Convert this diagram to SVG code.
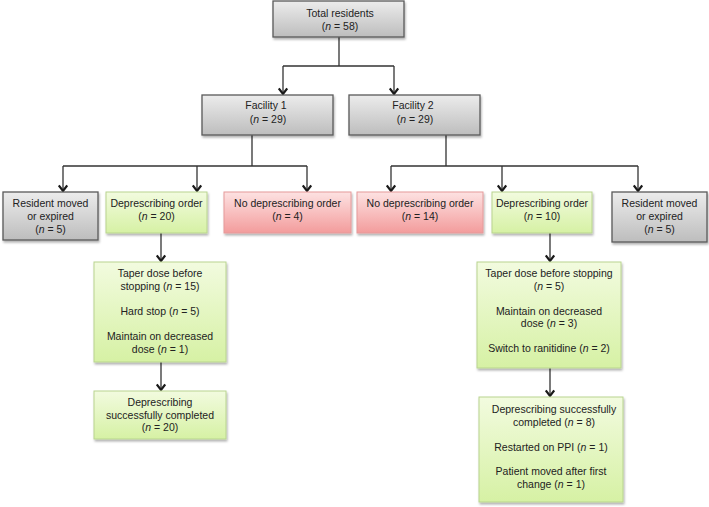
<svg xmlns="http://www.w3.org/2000/svg" width="709" height="507" viewBox="0 0 709 507">
<defs>
<linearGradient id="gGray" x1="0" y1="0" x2="0" y2="1"><stop offset="0" stop-color="#ececec"/><stop offset="1" stop-color="#bdbdbd"/></linearGradient>
<linearGradient id="gGreen" x1="0" y1="0" x2="0" y2="1"><stop offset="0" stop-color="#f2fbdf"/><stop offset="1" stop-color="#d6f1a4"/></linearGradient>
<linearGradient id="gRed" x1="0" y1="0" x2="0" y2="1"><stop offset="0" stop-color="#fde2e2"/><stop offset="1" stop-color="#f39c9c"/></linearGradient>
<filter id="sh" x="-10%" y="-10%" width="130%" height="140%"><feDropShadow dx="1" dy="2" stdDeviation="1.3" flood-color="#000" flood-opacity="0.3"/></filter>
<marker id="arr" viewBox="0 0 10 10" refX="8.5" refY="5" markerWidth="10" markerHeight="10" markerUnits="userSpaceOnUse" orient="auto">
<path d="M3,0.8 L8.5,5 L3,9.2" fill="none" stroke="#1a1a1a" stroke-width="2.2"/>
</marker>
</defs>
<style>
.gray{fill:url(#gGray);stroke:#5a5a5a;stroke-width:1.3;filter:url(#sh)}
.green{fill:url(#gGreen);stroke:#b9d48f;stroke-width:1;filter:url(#sh)}
.red{fill:url(#gRed);stroke:#e59a9a;stroke-width:1;filter:url(#sh)}
text{font-family:"Liberation Sans",Arial,sans-serif;font-size:10.5px;fill:#222;text-anchor:middle}
.i{font-style:italic}
.ln{fill:none;stroke:#333;stroke-width:1.3}
.ar{fill:none;stroke:#333;stroke-width:1.3;marker-end:url(#arr)}
</style>
<rect width="709" height="507" fill="#fff"/>
<g id="connectors">
<path class="ln" d="M339,37 V66 M283,66 H394"/>
<path class="ar" d="M283,66 V94"/>
<path class="ar" d="M394,66 V94"/>
<path class="ln" d="M252,135 V166 M63,166 H307"/>
<path class="ar" d="M63,166 V191"/>
<path class="ar" d="M197,166 V191"/>
<path class="ar" d="M307,166 V191"/>
<path class="ln" d="M446,135 V166 M391,166 H638"/>
<path class="ar" d="M391,166 V191"/>
<path class="ar" d="M502,166 V191"/>
<path class="ar" d="M638,166 V191"/>
<path class="ar" d="M161,233 V261"/>
<path class="ar" d="M161,362 V390"/>
<path class="ar" d="M550,233 V261"/>
<path class="ar" d="M550,368 V396"/>
</g>
<g id="total">
<rect class="gray" x="273" y="1" width="131" height="36"/>
<text x="340" y="17">Total residents</text>
<text x="340" y="30">(<tspan class="i">n</tspan> = 58)</text>
</g>
<g id="facility1">
<rect class="gray" x="202" y="95" width="131" height="40"/>
<text x="266" y="109">Facility 1</text>
<text x="268" y="123">(<tspan class="i">n</tspan> = 29)</text>
</g>
<g id="facility2">
<rect class="gray" x="349" y="95" width="131" height="40"/>
<text x="413" y="109">Facility 2</text>
<text x="415" y="123">(<tspan class="i">n</tspan> = 29)</text>
</g>
<g id="moved1">
<rect class="gray" x="3" y="192" width="95" height="48"/>
<text x="50.5" y="207">Resident moved</text>
<text x="50.5" y="220">or expired</text>
<text x="50.5" y="233">(<tspan class="i">n</tspan> = 5)</text>
</g>
<g id="deporder1">
<rect class="green" x="106" y="192" width="101" height="41"/>
<text x="156.5" y="207">Deprescribing order</text>
<text x="156.5" y="220">(<tspan class="i">n</tspan> = 20)</text>
</g>
<g id="nodep1">
<rect class="red" x="224" y="192" width="127" height="41"/>
<text x="287.5" y="207">No deprescribing order</text>
<text x="287.5" y="220">(<tspan class="i">n</tspan> = 4)</text>
</g>
<g id="nodep2">
<rect class="red" x="357" y="192" width="126" height="41"/>
<text x="420" y="207">No deprescribing order</text>
<text x="420" y="220">(<tspan class="i">n</tspan> = 14)</text>
</g>
<g id="deporder2">
<rect class="green" x="492" y="192" width="100" height="41"/>
<text x="542" y="207">Deprescribing order</text>
<text x="542" y="220">(<tspan class="i">n</tspan> = 10)</text>
</g>
<g id="moved2">
<rect class="gray" x="612" y="192" width="95" height="50"/>
<text x="659.5" y="207">Resident moved</text>
<text x="659.5" y="220">or expired</text>
<text x="659.5" y="233">(<tspan class="i">n</tspan> = 5)</text>
</g>
<g id="taper1">
<rect class="green" x="94" y="262" width="132" height="100"/>
<text x="160" y="277">Taper dose before</text>
<text x="160" y="290">stopping (<tspan class="i">n</tspan> = 15)</text>
<text x="160" y="315">Hard stop (<tspan class="i">n</tspan> = 5)</text>
<text x="160" y="340">Maintain on decreased</text>
<text x="160" y="353">dose (<tspan class="i">n</tspan> = 1)</text>
</g>
<g id="done1">
<rect class="green" x="94" y="391" width="132" height="48"/>
<text x="160" y="406">Deprescribing</text>
<text x="160" y="419">successfully completed</text>
<text x="160" y="431">(<tspan class="i">n</tspan> = 20)</text>
</g>
<g id="taper2">
<rect class="green" x="477" y="262" width="144" height="106"/>
<text x="549" y="277">Taper dose before stopping</text>
<text x="549" y="290">(<tspan class="i">n</tspan> = 5)</text>
<text x="549" y="315">Maintain on decreased</text>
<text x="549" y="327">dose (<tspan class="i">n</tspan> = 3)</text>
<text x="549" y="352">Switch to ranitidine (<tspan class="i">n</tspan> = 2)</text>
</g>
<g id="done2">
<rect class="green" x="479" y="397" width="144" height="105"/>
<text x="554" y="413">Deprescribing successfully</text>
<text x="554" y="426">completed (<tspan class="i">n</tspan> = 8)</text>
<text x="551" y="451">Restarted on PPI (<tspan class="i">n</tspan> = 1)</text>
<text x="551" y="475">Patient moved after first</text>
<text x="551" y="488">change (<tspan class="i">n</tspan> = 1)</text>
</g>
</svg>
